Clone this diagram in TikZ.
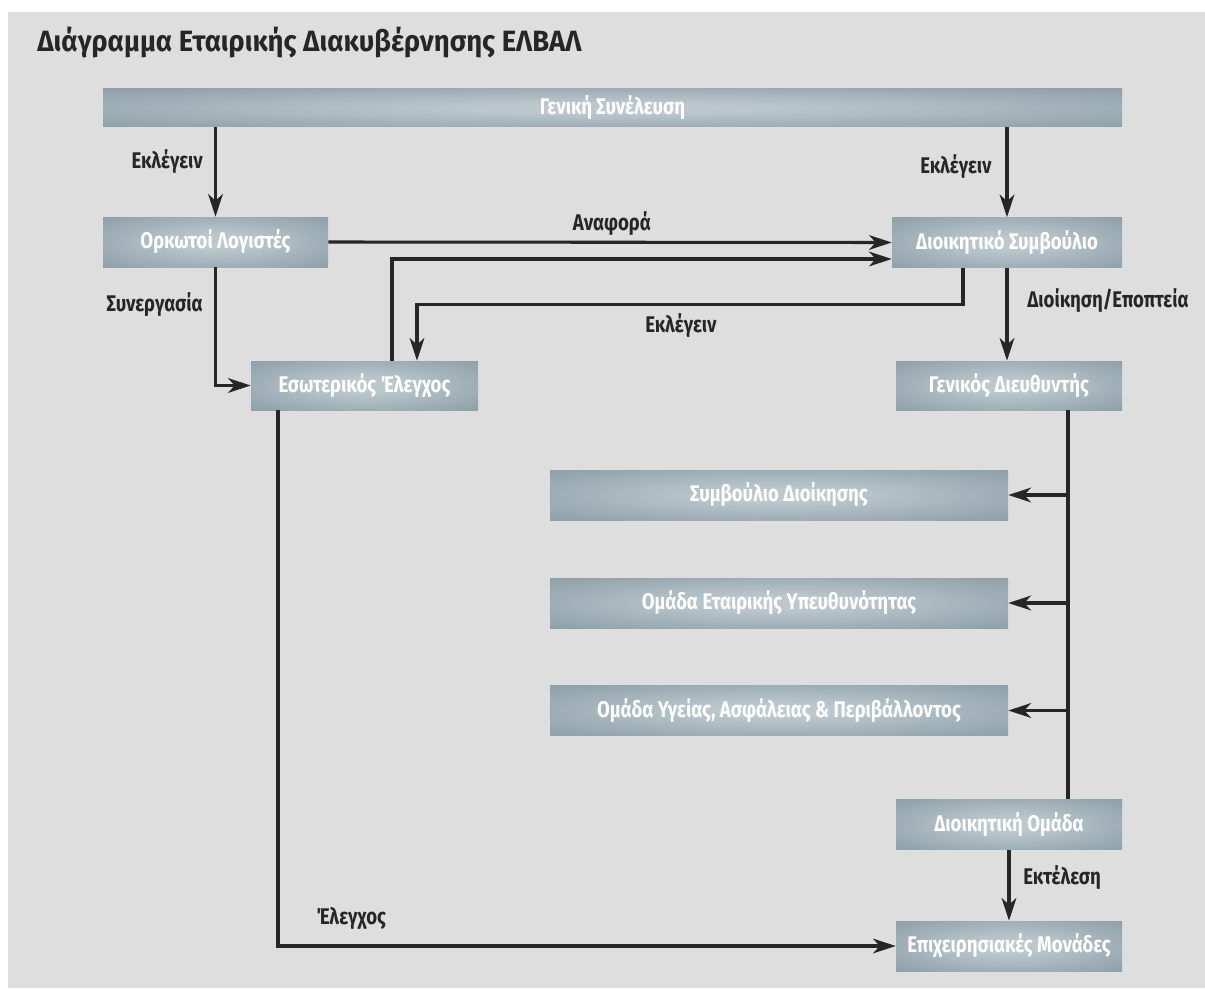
\documentclass[tikz,border=0pt]{standalone}
\usepackage{fontspec}
\usetikzlibrary{arrows.meta,calc}
\newfontfamily\cf{Fira Sans}[FakeStretch=0.82, BoldFont={Fira Sans Bold}]
\newfontfamily\tf{Fira Sans}[FakeStretch=0.935, BoldFont={Fira Sans Bold}]
\definecolor{bg}{HTML}{DEDEDE}
\definecolor{boxdark}{HTML}{778B96}
\definecolor{boxlight}{HTML}{BCC8CE}
\definecolor{ink}{HTML}{262626}
\pgfdeclareradialshading{boxshade}{\pgfpoint{0bp}{0bp}}{color(0bp)=(boxlight); color(6bp)=(boxlight); color(50bp)=(boxdark); color(80bp)=(boxdark)}
\begin{document}
\begin{tikzpicture}[x=0.75pt,y=-0.75pt,
  box/.style={shading=boxshade, draw=none, inner sep=0pt, text=white, font=\cf\bfseries\fontsize{17}{19}\selectfont},
  arr/.style={draw=ink, line width=2.3pt, -{Stealth[length=17pt,width=11pt,inset=5pt]}},
  plain/.style={draw=ink, line width=2.3pt},
  lbl/.style={text=ink, font=\cf\bfseries\fontsize{17}{19}\selectfont, inner sep=0pt}]
\useasboundingbox (0,0) rectangle (1205,988);
\fill[white] (0,0) rectangle (1205,988);
\fill[bg] (8,12) rectangle (1205,988);

\node[anchor=base west, inner sep=0pt, text=ink, font=\tf\bfseries\fontsize{22}{25}\selectfont] (title) at (37,52) {Διάγραμμα Εταιρικής Διακυβέρνησης ΕΛΒΑΛ};

\node[box, minimum width=764.25pt, minimum height=28.5pt] (GS) at (612.5,108) {Γενική Συνέλευση};
\node[box, minimum width=168.75pt, minimum height=37.5pt] (OL) at (215.5,242) {Ορκωτοί Λογιστές};
\node[box, minimum width=172.5pt, minimum height=37.5pt] (DS) at (1007,242.5) {Διοικητικό Συμβούλιο};
\node[box, minimum width=170.25pt, minimum height=36.75pt] (EE) at (364.5,385.5) {Εσωτερικός Έλεγχος};
\node[box, minimum width=169.5pt, minimum height=36.75pt] (GD) at (1009,385.5) {Γενικός Διευθυντής};
\node[box, minimum width=343.5pt, minimum height=37.5pt] (SD) at (779,495) {Συμβούλιο Διοίκησης};
\node[box, minimum width=343.5pt, minimum height=37.5pt] (OEY) at (779,603) {Ομάδα Εταιρικής Υπευθυνότητας};
\node[box, minimum width=343.5pt, minimum height=37.5pt] (OYA) at (779,710.5) {Ομάδα Υγείας, Ασφάλειας \& Περιβάλλοντος};
\node[box, minimum width=169.5pt, minimum height=37.5pt] (DO) at (1009,824.5) {Διοικητική Ομάδα};
\node[box, minimum width=169.5pt, minimum height=37.5pt] (EM) at (1009,946) {Επιχειρησιακές Μονάδες};

% connectors
\draw[arr] (GS.south -| OL.north) -- (OL.north);
\draw[arr] (GS.south -| DS.north) -- (DS.north);
\draw[arr] (OL.east) -- (DS.west);
\draw[arr] ($(EE.north)+(27.5,0)$) |- ($(DS.west)+(0,16.5)$);
\draw[arr] ($(DS.south)+(-44,0)$) -- ++(0,37) -| ($(EE.north)+(52.5,0)$);
\draw[arr] (OL.south) |- (EE.west);
\draw[arr] (DS.south) -- (DS.south |- GD.north);
\coordinate (gdl) at ($(GD.south)+(59,0)$);
\draw[plain] (gdl) -- (gdl |- DO.north);
\draw[arr] (gdl |- SD.east) -- (SD.east);
\draw[arr] (gdl |- OEY.east) -- (OEY.east);
\draw[arr] (gdl |- OYA.east) -- (OYA.east);
\draw[arr] (DO.south) -- (EM.north);
\draw[arr] ($(EE.south)+(-86.5,0)$) |- (EM.west);

% labels
\node[lbl, anchor=base east] (l1) at (203,168) {Εκλέγειν};
\node[lbl, anchor=base west] (l2) at (920,173) {Εκλέγειν};
\node[lbl, anchor=base] (l3) at (612,230) {Αναφορά};
\node[lbl, anchor=base west] (l4) at (645,332) {Εκλέγειν};
\node[lbl, anchor=base east] (l5) at (203,311) {Συνεργασία};
\node[lbl, anchor=base west] (l6) at (1027,307) {Διοίκηση/Εποπτεία};
\node[lbl, anchor=base west] (l7) at (1023,884) {Εκτέλεση};
\node[lbl, anchor=base west] (l8) at (316,924) {Έλεγχος};
\end{tikzpicture}
\end{document}
